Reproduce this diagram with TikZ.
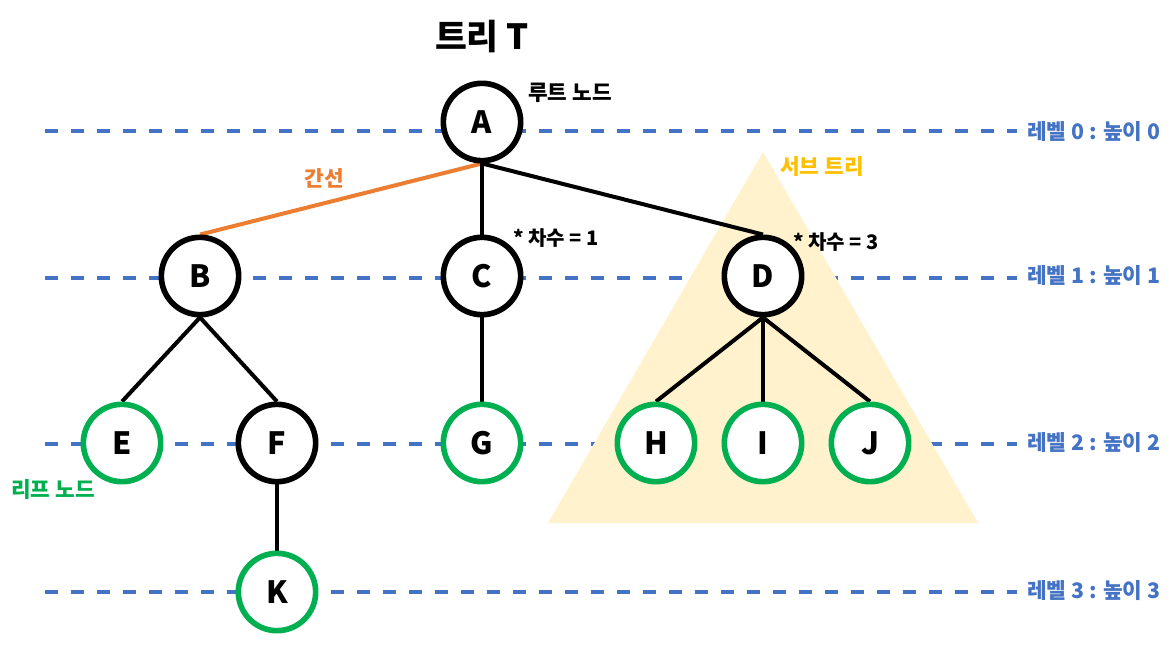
\documentclass[tikz,border=0pt]{standalone}
\usepackage{fontspec}
\setmainfont{Noto Sans CJK KR}
\definecolor{lvlblue}{HTML}{4472C4}
\definecolor{leafgreen}{HTML}{00B050}
\definecolor{edgeorange}{HTML}{ED7D31}
\definecolor{subgold}{HTML}{FFC000}
\definecolor{subfill}{HTML}{FFF2CC}
\pgfdeclarelayer{bglayer}
\pgfdeclarelayer{edgelayer}
\pgfsetlayers{bglayer,edgelayer,main}
\tikzset{
  treenode/.style={circle,draw=black,line width=4.2pt,fill=white,minimum size=58pt,inner sep=0pt,font=\fontsize{23}{25}\selectfont\bfseries},
  leafnode/.style={treenode,draw=leafgreen},
  edgeline/.style={line width=3pt,draw=black},
  levelline/.style={draw=lvlblue,line width=3pt,dash pattern=on 10pt off 9.5pt},
  levellabel/.style={text=lvlblue,font=\fontsize{16}{18}\selectfont\bfseries,anchor=west,inner sep=0pt},
  note/.style={font=\fontsize{16}{18}\selectfont\bfseries,inner sep=0pt},
  degnote/.style={font=\fontsize{15}{17}\selectfont\bfseries,inner sep=0pt}
}
\begin{document}
\begin{tikzpicture}[x=0.75pt,y=-0.75pt]
\useasboundingbox (0,0) rectangle (1175,652);
% nodes
\node[treenode] (A) at (482,122) {A};
\node[treenode] (B) at (200,276) {B};
\node[treenode] (C) at (482,276) {C};
\node[treenode] (D) at (763,276) {D};
\node[leafnode] (E) at (122,443) {E};
\node[treenode] (F) at (277,443) {F};
\node[leafnode] (G) at (482,443) {G};
\node[leafnode] (H) at (656,443) {H};
\node[leafnode] (I) at (763,443) {I};
\node[leafnode] (J) at (870,443) {J};
\node[leafnode] (K) at (277,592) {K};
% level lines and subtree triangle
\begin{pgfonlayer}{bglayer}
\coordinate (l0a) at (45,131); \coordinate (l0b) at (1017,131);
\coordinate (l1a) at (45,278); \coordinate (l1b) at (1017,278);
\coordinate (l2a) at (45,444); \coordinate (l2b) at (1017,444);
\coordinate (l3a) at (45,592); \coordinate (l3b) at (1017,592);
\draw[levelline] (l0a) -- (l0b);
\draw[levelline] (l1a) -- (l1b);
\draw[levelline] (l2a) -- (l2b);
\draw[levelline] (l3a) -- (l3b);
\coordinate (t1) at (763,152);
\coordinate (t2) at (548,523);
\coordinate (t3) at (978,523);
\fill[subfill] (t1) -- (t2) -- (t3) -- cycle;
\end{pgfonlayer}
% edges
\begin{pgfonlayer}{edgelayer}
\draw[edgeline,draw=edgeorange] (A.south) -- (B.north);
\draw[edgeline] (A.south) -- (C.north);
\draw[edgeline] (A.south) -- (D.north);
\draw[edgeline] (B.south) -- (E.north);
\draw[edgeline] (B.south) -- (F.north);
\draw[edgeline] (C.south) -- (G.north);
\draw[edgeline] (D.south) -- (H.north);
\draw[edgeline] (D.south) -- (I.north);
\draw[edgeline] (D.south) -- (J.north);
\draw[edgeline] (F.south) -- (K.north);
\end{pgfonlayer}
% texts
\node[font=\fontsize{26}{28}\selectfont\bfseries,inner sep=0pt] (title) at (482,37) {트리 T};
\node[note] (root) at (570,93) {루트 노드};
\node[note,text=edgeorange] (edgelbl) at (324,178) {간선};
\node[degnote] (deg1) at (556,238) {* 차수 = 1};
\node[degnote] (deg3) at (836,242) {* 차수 = 3};
\node[note,text=subgold] (sub) at (822,167) {서브 트리};
\node[note,text=leafgreen] (leaf) at (53,490) {리프 노드};
\node[levellabel] (lv0) at (1027,132) {레벨 0 : 높이 0};
\node[levellabel] (lv1) at (1027,276) {레벨 1 : 높이 1};
\node[levellabel] (lv2) at (1027,443) {레벨 2 : 높이 2};
\node[levellabel] (lv3) at (1027,591) {레벨 3 : 높이 3};
\end{tikzpicture}
\end{document}
